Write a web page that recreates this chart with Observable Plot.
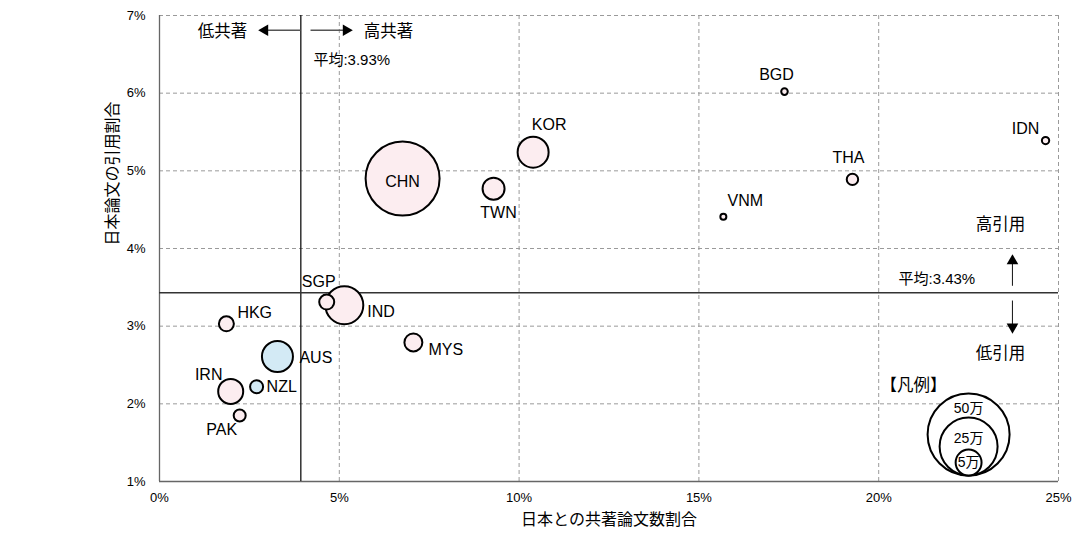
<!DOCTYPE html>
<html>
<head>
<meta charset="utf-8">
<script src="https://cdn.jsdelivr.net/npm/d3@7"></script>
<script src="https://cdn.jsdelivr.net/npm/@observablehq/plot@0.6"></script>
<style>
  html, body { margin: 0; padding: 0; background: #fff; }
  #chart { width: 1088px; height: 551px; }
</style>
</head>
<body>
<div id="chart"></div>
<script>
// ---- data ----
const countries = ["CHN","KOR","TWN","BGD","IDN","THA","VNM","SGP","IND","HKG","MYS","AUS","NZL","IRN","PAK"];
const coauthorShare = [6.76,10.39,9.29,17.38,24.64,19.27,15.68,4.65,5.14,1.86,7.06,3.28,2.70,1.98,2.23]; // %
const citationShare = [4.90,5.24,4.77,6.02,5.39,4.89,4.41,3.31,3.27,3.03,2.79,2.61,2.22,2.16,1.85]; // %
const paperCount   = [407000,71500,36000,3200,4000,9700,2700,16700,107000,16700,24000,71500,12600,46500,10700];
const region       = ["Asia","Asia","Asia","Asia","Asia","Asia","Asia","Asia","Asia","Asia","Asia","Oceania","Oceania","Asia","Asia"];
const meanCoauthor = 3.93;
const meanCitation = 3.43;
const xTicks = [0, 5, 10, 15, 20, 25];
const yTicks = [1, 2, 3, 4, 5, 6, 7];
const legendValues = [500000, 250000, 50000];
const legendLabels = ["50万", "25万", "5万"];

const data = countries.map((c, i) => ({
  country: c, x: coauthorShare[i], y: citationShare[i], n: paperCount[i], region: region[i]
}));

// ---- styling ----
const FONT = '"Liberation Sans", Arial, "Noto Sans CJK JP", sans-serif';
const R_MAX = 41;
const rPx = v => R_MAX * Math.sqrt(v / 500000);
const labelStyle = {
  CHN: [0, 3, "middle"], KOR: [16, -27, "middle"], TWN: [5, 24, "middle"],
  BGD: [-8, -17, "middle"], IDN: [-20, -12, "middle"], THA: [-4, -22, "middle"],
  VNM: [22, -16, "middle"], SGP: [-8, -20, "middle"], IND: [23, 7, "start"],
  HKG: [11, -11, "start"], MYS: [15, 7, "start"], AUS: [22, 1, "start"],
  NZL: [10, 0, "start"], IRN: [-22, -17, "middle"], PAK: [-18, 14, "middle"]
};
const labelMarks = ["start", "middle"].map(anchor =>
  Object.entries(labelStyle).filter(([, s]) => s[2] === anchor).map(([c, s]) =>
    Plot.text(data.filter(d => d.country === c), {
      x: "x", y: "y", text: "country", dx: s[0], dy: s[1], textAnchor: anchor,
      fontSize: 16, fill: "#000"
    })
  )
).flat();

// legend anchor (data units)
const legendX = 22.5, legendY = 1.077;
const legendOffsets = [15, 21, 13];

const legendCircles = legendValues.map(v =>
  Plot.dot([v], {x: () => legendX, y: () => legendY, r: d => d, dy: -rPx(v),
    fill: "white", stroke: "#000", strokeWidth: 2, sort: null})
);
const legendTexts = legendValues.map((v, i) =>
  Plot.text([legendLabels[i]], {x: () => legendX, y: () => legendY, text: d => d,
    dy: -2 * rPx(v) + legendOffsets[i], fontSize: 14, fill: "#000"})
);

const head = (x, y, rot) => Plot.dot([0], {x: () => x, y: () => y, symbol: "triangle",
  r: 4.3, fill: "#000", stroke: "none", rotate: rot});

const chart = Plot.plot({
  width: 1088,
  height: 551,
  marginLeft: 159,
  marginRight: 30,
  marginTop: 15,
  marginBottom: 70,
  style: {fontFamily: FONT, fontSize: "13px", background: "white", color: "#000", overflow: "visible"},
  x: {domain: [0, 25]},
  y: {domain: [1, 7]},
  r: {type: "sqrt", domain: [0, 500000], range: [0, R_MAX], clamp: false},
  color: {domain: ["Asia", "Oceania"], range: ["#fcedf0", "#d3eaf5"]},
  marks: [
    Plot.gridX(xTicks.slice(1), {stroke: "#9a9a9a", strokeOpacity: 1, strokeDasharray: "4,3"}),
    Plot.gridY(yTicks.slice(1), {stroke: "#9a9a9a", strokeOpacity: 1, strokeDasharray: "4,3"}),
    Plot.ruleX([0], {stroke: "#666", strokeWidth: 1.3}),
    Plot.ruleY([1], {stroke: "#666", strokeWidth: 1.3}),
    Plot.axisX(xTicks, {tickSize: 0, tickPadding: 11, tickFormat: d => d + "%", label: null}),
    Plot.axisY(yTicks, {tickSize: 0, tickPadding: 14, tickFormat: d => d + "%", label: null}),
    Plot.text(["日本との共著論文数割合"], {frameAnchor: "bottom", dy: 43, fontSize: 16, ariaLabel: "xlabel"}),
    Plot.text(["日本論文の引用割合"], {frameAnchor: "left", dx: -47, dy: -3, rotate: -90, fontSize: 16, ariaLabel: "ylabel"}),
    // mean lines
    Plot.ruleX([meanCoauthor], {stroke: "#111", strokeWidth: 1.3}),
    Plot.ruleY([meanCitation], {stroke: "#333", strokeWidth: 1.3}),
    // bubbles
    Plot.dot(data, {x: "x", y: "y", r: "n", fill: "region", stroke: "#000", strokeWidth: 2}),
    ...labelMarks,
    // annotations
    Plot.link([0], {x1: () => 3.92, x2: () => 2.88, y1: () => 6.81, y2: () => 6.81, stroke: "#555", strokeWidth: 1.3}),
    head(2.93, 6.81, -90),
    Plot.link([0], {x1: () => 4.20, x2: () => 5.24, y1: () => 6.81, y2: () => 6.81, stroke: "#555", strokeWidth: 1.3}),
    head(5.19, 6.81, 90),
    Plot.link([0], {x1: () => 23.72, x2: () => 23.72, y1: () => 3.52, y2: () => 3.86, stroke: "#222", strokeWidth: 1.1}),
    head(23.72, 3.84, 0),
    Plot.link([0], {x1: () => 23.72, x2: () => 23.72, y1: () => 3.33, y2: () => 2.97, stroke: "#222", strokeWidth: 1.1}),
    head(23.72, 2.99, 180),
    Plot.text(["低共著"], {x: () => 1.75, y: () => 6.79, text: d => d, fontSize: 16.5}),
    Plot.text(["高共著"], {x: () => 6.37, y: () => 6.79, text: d => d, fontSize: 16.5}),
    Plot.text(["平均:3.93%"], {x: () => 4.28, y: () => 6.42, text: d => d, textAnchor: "start", fontSize: 15}),
    Plot.text(["高引用"], {x: () => 23.39, y: () => 4.30, text: d => d, fontSize: 16.5}),
    Plot.text(["平均:3.43%"], {x: () => 20.55, y: () => 3.61, text: d => d, textAnchor: "start", fontSize: 15}),
    Plot.text(["低引用"], {x: () => 23.39, y: () => 2.65, text: d => d, fontSize: 16.5}),
    Plot.text(["【凡例】"], {x: () => 20.05, y: () => 2.23, text: d => d, textAnchor: "start", fontSize: 16.5}),
    ...legendCircles,
    ...legendTexts
  ]
});

document.getElementById("chart").appendChild(chart);
d3.select(chart).selectAll('g[aria-label="xlabel"] text').style("letter-spacing", "0.9px");
d3.select(chart).selectAll('g[aria-label="ylabel"] text').style("letter-spacing", "2px");
d3.select(chart).selectAll('g[aria-label="x-axis tick label"], g[aria-label="y-axis tick label"]')
  .style("font-size", "13px").attr("font-size", "13");
</script>
</body>
</html>
